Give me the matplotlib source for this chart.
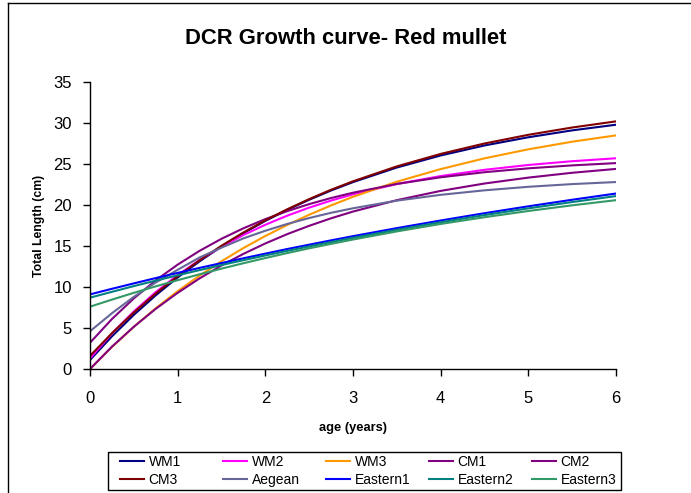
import matplotlib
matplotlib.use("Agg")
import matplotlib.pyplot as plt
from matplotlib.lines import Line2D
from matplotlib.patches import Rectangle

plt.rcParams['font.family'] = ['Liberation Sans', 'DejaVu Sans']

# ages (years)
age = [0, 0.25, 0.5, 0.75, 1, 1.25, 1.5, 1.75, 2, 2.25, 2.5, 2.75, 3,
       3.5, 4, 4.5, 5, 5.5, 6]

# total length (cm)
wm1 = [1.1, 3.98, 6.6, 8.99, 11.16, 13.13, 14.93, 16.57, 18.06, 19.41, 20.64, 21.77, 22.79,
       24.57, 26.04, 27.26, 28.26, 29.10, 29.79]
wm2 = [1.3, 4.34, 7.02, 9.38, 11.46, 13.30, 14.91, 16.34, 17.59, 18.70, 19.68, 20.54, 21.30,
       22.56, 23.53, 24.29, 24.88, 25.34, 25.70]
wm3 = [0.0, 2.68, 5.15, 7.41, 9.49, 11.39, 13.14, 14.75, 16.22, 17.57, 18.81, 19.95, 21.0,
       22.84, 24.38, 25.69, 26.79, 27.72, 28.49]
cm1 = [3.2, 6.09, 8.61, 10.81, 12.73, 14.41, 15.88, 17.16, 18.28, 19.25, 20.11, 20.85, 21.50,
       22.57, 23.38, 24.0, 24.47, 24.83, 25.11]
cm2 = [0.0, 2.72, 5.15, 7.34, 9.29, 11.05, 12.63, 14.04, 15.31, 16.45, 17.46, 18.38, 19.20,
       20.59, 21.72, 22.62, 23.34, 23.93, 24.40]
cm3 = [1.6, 4.36, 6.89, 9.21, 11.32, 13.26, 15.03, 16.65, 18.13, 19.48, 20.72, 21.86, 22.89,
       24.71, 26.23, 27.50, 28.56, 29.45, 30.20]
aegean = [4.6, 6.8, 8.8, 10.55, 12.1, 13.6, 14.8, 15.93, 16.86, 17.69, 18.41, 19.05, 19.60,
          20.53, 21.24, 21.79, 22.22, 22.55, 22.80]
eastern1 = [9.1, 9.78, 10.44, 11.09, 11.72, 12.33, 12.92, 13.50, 14.07, 14.63, 15.16, 15.69, 16.2,
            17.18, 18.11, 19.0, 19.84, 20.64, 21.40]
eastern2 = [8.7, 9.41, 10.11, 10.78, 11.43, 12.06, 12.68, 13.27, 13.85, 14.41, 14.95, 15.48, 16.0,
            16.98, 17.90, 18.77, 19.59, 20.36, 21.09]
eastern3 = [7.6, 8.46, 9.29, 10.08, 10.83, 11.55, 12.24, 12.90, 13.53, 14.14, 14.72, 15.26, 15.79,
            16.78, 17.69, 18.51, 19.27, 19.96, 20.59]

names = ['WM1', 'WM2', 'WM3', 'CM1', 'CM2', 'CM3', 'Aegean', 'Eastern1', 'Eastern2', 'Eastern3']
series = [wm1, wm2, wm3, cm1, cm2, cm3, aegean, eastern1, eastern2, eastern3]
colors = ['#000080', '#FF00FF', '#FF9900', '#800080', '#800080',
          '#800000', '#666699', '#0000FF', '#008080', '#339966']

W, H = 691, 493
fig = plt.figure(figsize=(W / 100, H / 100), dpi=100)
ax = fig.add_axes([90 / W, 1 - 369 / H, (616 - 90) / W, (369 - 82) / H])

lines = []
for name, vals, c in zip(names, series, colors):
    ln, = ax.plot(age, vals, color=c, linewidth=1.5, label=name)
    lines.append(ln)

ax.set_xlim(0, 6)
ax.set_ylim(0, 35)
ax.set_xticks(range(0, 7))
ax.set_yticks(range(0, 36, 5))
ax.tick_params(direction='out', length=5, width=1, labelsize=12)
ax.tick_params(axis='x', pad=11)
ax.tick_params(axis='y', pad=8)
ax.spines['top'].set_visible(False)
ax.spines['right'].set_visible(False)
ax.spines['left'].set_linewidth(1)
ax.spines['bottom'].set_linewidth(1)

ax.set_xlabel('age (years)', fontsize=9.3, fontweight='bold', labelpad=11)
ax.set_ylabel('Total Length (cm)', fontsize=8.8, fontweight='bold', labelpad=6)
fig.text(0.5, 1 - 38 / H, 'DCR Growth curve- Red mullet', ha='center', va='center',
         fontsize=15.8, fontweight='bold')

# legend: frame + one small legend per column (equal column spacing like Excel)
fig.add_artist(Rectangle((107.5 / W, 1 - 490 / H), (621 - 107.5) / W, 38 / H,
                         transform=fig.transFigure, fill=False, edgecolor='black', linewidth=1))
for col in range(5):
    x0 = (120 + 103 * col) / W
    pair = [col, col + 5]
    leg = fig.legend([lines[i] for i in pair], [names[i] for i in pair],
                     loc='center left', bbox_to_anchor=(x0, 1 - 471 / H),
                     fontsize=10, frameon=False, handlelength=1.75, handletextpad=0.3,
                     labelspacing=0.25, borderpad=0, borderaxespad=0)

# outer chart frame (partly cropped in the original)
fig.add_artist(Line2D([7.5 / W, 7.5 / W], [0, 1 - 2.5 / H], color='black', linewidth=1))
fig.add_artist(Line2D([7.5 / W, 1], [1 - 2.5 / H, 1 - 2.5 / H], color='black', linewidth=1))

fig.savefig('out.png', dpi=100)
